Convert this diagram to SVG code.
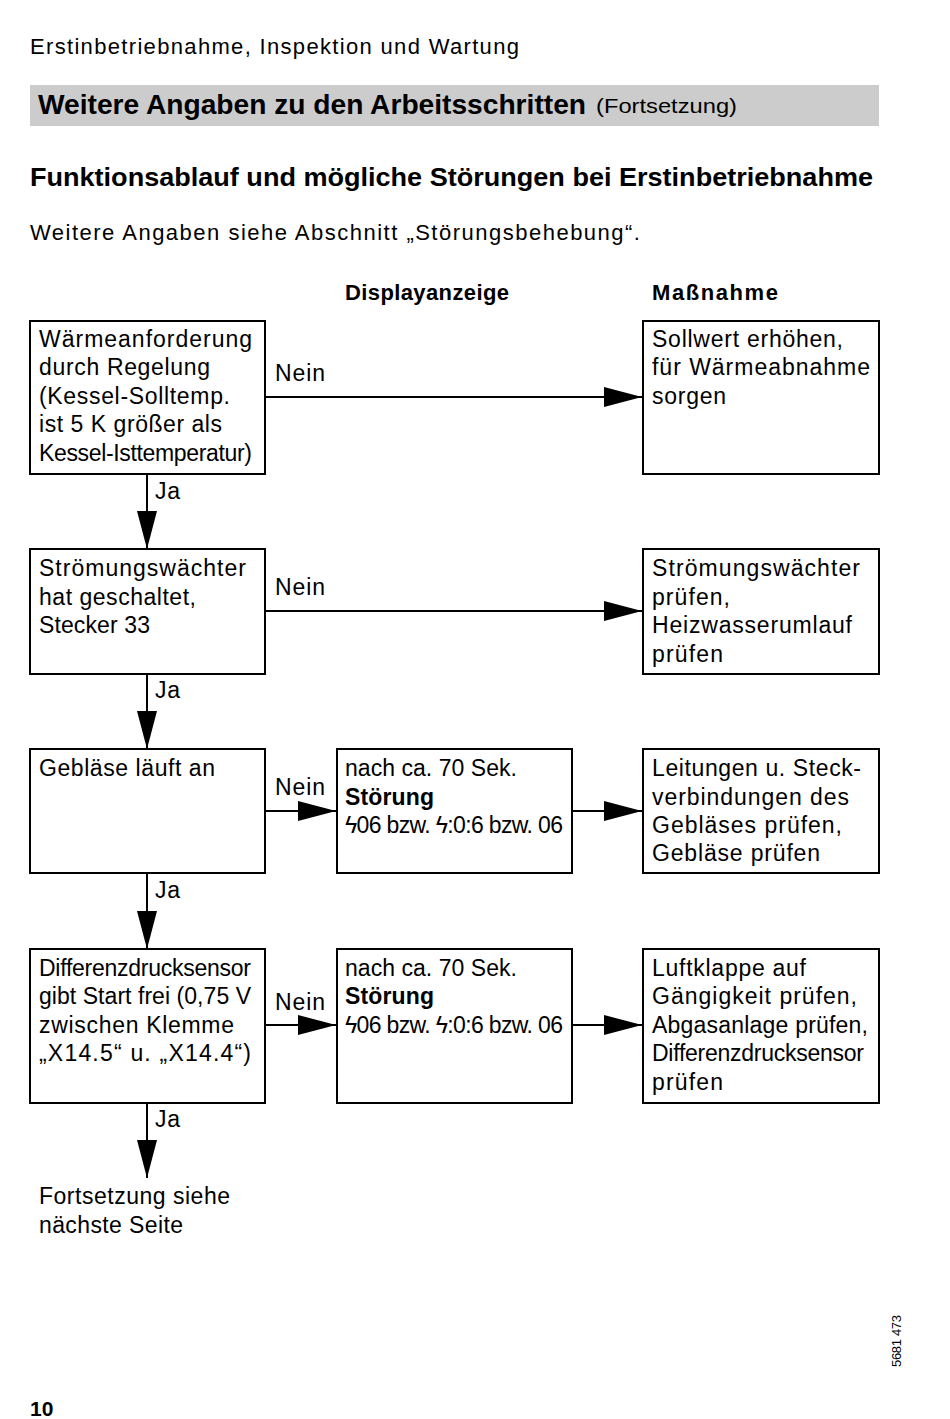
<svg xmlns="http://www.w3.org/2000/svg" width="950" height="1419" viewBox="0 0 950 1419">
<defs>
<style>
text{font-family:"Liberation Sans",Arial,sans-serif;fill:#000}
.t{font-size:23px}
.b{font-weight:bold}
.box{fill:#fff;stroke:#000;stroke-width:2}
.ln{stroke:#000;stroke-width:2;fill:none}
</style>
<marker id="ah" viewBox="0 0 38 20" refX="38" refY="10" markerWidth="38" markerHeight="20" markerUnits="userSpaceOnUse" orient="auto"><path d="M0,0 L38,10 L0,20 Z" fill="#000"/></marker>
</defs>
<rect width="950" height="1419" fill="#fff"/>
<text x="30" y="54" font-size="22" textLength="489">Erstinbetriebnahme, Inspektion und Wartung</text>
<rect x="30" y="85" width="849" height="41" fill="#ccc"/>
<text x="38" y="114" font-size="27" class="b" textLength="548" lengthAdjust="spacingAndGlyphs">Weitere Angaben zu den Arbeitsschritten</text>
<text x="596" y="113" font-size="21" textLength="141" lengthAdjust="spacingAndGlyphs">(Fortsetzung)</text>
<text x="30" y="186" font-size="26" class="b" textLength="843" lengthAdjust="spacingAndGlyphs">Funktionsablauf und mögliche Störungen bei Erstinbetriebnahme</text>
<text x="30" y="240" font-size="22" textLength="610">Weitere Angaben siehe Abschnitt „Störungsbehebung“.</text>
<text x="345" y="300" font-size="22" class="b" textLength="164">Displayanzeige</text>
<text x="652" y="300" font-size="22" class="b" textLength="126">Maßnahme</text>

<g id="connectors">
<line class="ln" x1="266" y1="397" x2="642" y2="397" marker-end="url(#ah)"/>
<line class="ln" x1="266" y1="611" x2="642" y2="611" marker-end="url(#ah)"/>
<line class="ln" x1="266" y1="811" x2="336" y2="811" marker-end="url(#ah)"/>
<line class="ln" x1="573" y1="811" x2="642" y2="811" marker-end="url(#ah)"/>
<line class="ln" x1="266" y1="1025" x2="336" y2="1025" marker-end="url(#ah)"/>
<line class="ln" x1="573" y1="1025" x2="642" y2="1025" marker-end="url(#ah)"/>
<line class="ln" x1="147" y1="474" x2="147" y2="549" marker-end="url(#ah)"/>
<line class="ln" x1="147" y1="674" x2="147" y2="749" marker-end="url(#ah)"/>
<line class="ln" x1="147" y1="873" x2="147" y2="949" marker-end="url(#ah)"/>
<line class="ln" x1="147" y1="1103" x2="147" y2="1178" marker-end="url(#ah)"/>
<text class="t" x="275" y="381" textLength="50">Nein</text>
<text class="t" x="275" y="595" textLength="50">Nein</text>
<text class="t" x="275" y="795" textLength="50">Nein</text>
<text class="t" x="275" y="1010" textLength="50">Nein</text>
<text class="t" x="155" y="499" textLength="25">Ja</text>
<text class="t" x="155" y="698" textLength="25">Ja</text>
<text class="t" x="155" y="898" textLength="25">Ja</text>
<text class="t" x="155" y="1127" textLength="25">Ja</text>
</g>

<g id="n1"><rect class="box" x="30" y="321" width="235" height="153"/>
<text class="t" x="39" y="347" textLength="213">Wärmeanforderung</text>
<text class="t" x="39" y="375" textLength="171">durch Regelung</text>
<text class="t" x="39" y="404" textLength="191">(Kessel-Solltemp.</text>
<text class="t" x="39" y="432" textLength="183">ist 5 K größer als</text>
<text class="t" x="39" y="461" textLength="213">Kessel-Isttemperatur)</text></g>
<g id="m1"><rect class="box" x="643" y="321" width="236" height="153"/>
<text class="t" x="652" y="347" textLength="191">Sollwert erhöhen,</text>
<text class="t" x="652" y="375" textLength="218">für Wärmeabnahme</text>
<text class="t" x="652" y="404" textLength="74">sorgen</text></g>

<g id="n2"><rect class="box" x="30" y="549" width="235" height="125"/>
<text class="t" x="39" y="576" textLength="207">Strömungswächter</text>
<text class="t" x="39" y="605" textLength="157">hat geschaltet,</text>
<text class="t" x="39" y="633" textLength="111">Stecker 33</text></g>
<g id="m2"><rect class="box" x="643" y="549" width="236" height="125"/>
<text class="t" x="652" y="576" textLength="208">Strömungswächter</text>
<text class="t" x="652" y="605" textLength="78">prüfen,</text>
<text class="t" x="652" y="633" textLength="200">Heizwasserumlauf</text>
<text class="t" x="652" y="662" textLength="71">prüfen</text></g>

<g id="n3"><rect class="box" x="30" y="749" width="235" height="124"/>
<text class="t" x="39" y="776" textLength="176">Gebläse läuft an</text></g>
<g id="d3"><rect class="box" x="337" y="749" width="235" height="124"/>
<text class="t" x="345" y="776" textLength="172">nach ca. 70 Sek.</text>
<text class="t b" x="345" y="805" textLength="89">Störung</text>
<text class="t" x="345" y="833" textLength="218">ϟ06 bzw. ϟ:0:6 bzw. 06</text></g>
<g id="m3"><rect class="box" x="643" y="749" width="236" height="124"/>
<text class="t" x="652" y="776" textLength="209">Leitungen u. Steck-</text>
<text class="t" x="652" y="805" textLength="197">verbindungen des</text>
<text class="t" x="652" y="833" textLength="190">Gebläses prüfen,</text>
<text class="t" x="652" y="861" textLength="168">Gebläse prüfen</text></g>

<g id="n4"><rect class="box" x="30" y="949" width="235" height="154"/>
<text class="t" x="39" y="976" textLength="212">Differenzdrucksensor</text>
<text class="t" x="39" y="1004" textLength="212">gibt Start frei (0,75 V</text>
<text class="t" x="39" y="1033" textLength="195">zwischen Klemme</text>
<text class="t" x="39" y="1061" textLength="212">„X14.5“ u. „X14.4“)</text></g>
<g id="d4"><rect class="box" x="337" y="949" width="235" height="154"/>
<text class="t" x="345" y="976" textLength="172">nach ca. 70 Sek.</text>
<text class="t b" x="345" y="1004" textLength="89">Störung</text>
<text class="t" x="345" y="1033" textLength="218">ϟ06 bzw. ϟ:0:6 bzw. 06</text></g>
<g id="m4"><rect class="box" x="643" y="949" width="236" height="154"/>
<text class="t" x="652" y="976" textLength="154">Luftklappe auf</text>
<text class="t" x="652" y="1004" textLength="205">Gängigkeit prüfen,</text>
<text class="t" x="652" y="1033" textLength="216">Abgasanlage prüfen,</text>
<text class="t" x="652" y="1061" textLength="212">Differenzdrucksensor</text>
<text class="t" x="652" y="1090" textLength="71">prüfen</text></g>

<g id="cont">
<text class="t" x="39" y="1204" textLength="191">Fortsetzung siehe</text>
<text class="t" x="39" y="1233" textLength="144">nächste Seite</text></g>

<text x="30" y="1416" font-size="21" class="b">10</text>
<text transform="translate(901,1367) rotate(-90)" font-size="13" textLength="52">5681 473</text>
</svg>
